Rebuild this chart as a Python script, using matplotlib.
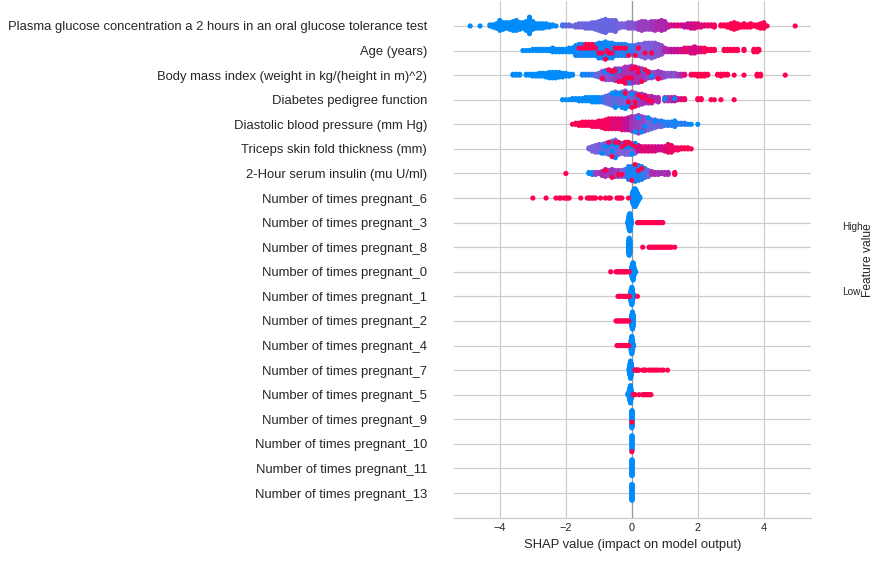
import matplotlib
matplotlib.use("Agg")
import matplotlib.pyplot as plt
from matplotlib.colors import LinearSegmentedColormap
import numpy as np

features = [
    "Plasma glucose concentration a 2 hours in an oral glucose tolerance test",
    "Age (years)",
    "Body mass index (weight in kg/(height in m)^2)",
    "Diabetes pedigree function",
    "Diastolic blood pressure (mm Hg)",
    "Triceps skin fold thickness (mm)",
    "2-Hour serum insulin (mu U/ml)",
    "Number of times pregnant_6",
    "Number of times pregnant_3",
    "Number of times pregnant_8",
    "Number of times pregnant_0",
    "Number of times pregnant_1",
    "Number of times pregnant_2",
    "Number of times pregnant_4",
    "Number of times pregnant_7",
    "Number of times pregnant_5",
    "Number of times pregnant_9",
    "Number of times pregnant_10",
    "Number of times pregnant_11",
    "Number of times pregnant_13",
]

# shap value, how many points sit there, colour (0 low feature value, 1 high)
glucose_shap = [-4.9, -4.6, -4.3, -4.2, -4.1, -4.0, -3.9, -3.8, -3.7, -3.6,
                -3.5, -3.4, -3.3, -3.2, -3.1, -3.0, -2.9, -2.8, -2.7, -2.6,
                -2.5, -2.4, -2.3, -2.1, -2.0, -1.9, -1.8, -1.7, -1.6, -1.5,
                -1.4, -1.3, -1.2, -1.1, -1.0, -0.9, -0.8, -0.7, -0.6, -0.5,
                -0.4, -0.3, -0.2, -0.1, 0.0, 0.1, 0.2, 0.3, 0.4, 0.5,
                0.6, 0.7, 0.8, 0.9, 1.0, 1.1, 1.2, 1.3, 1.4, 1.5,
                1.6, 1.7, 1.8, 1.9, 2.0, 2.1, 2.2, 2.3, 2.4, 2.5,
                2.7, 2.8, 2.9, 3.0, 3.1, 3.2, 3.3, 3.4, 3.5, 3.6,
                3.7, 3.8, 3.9, 4.0, 4.1, 4.95]
glucose_n = [1, 1, 2, 3, 5, 10, 7, 6, 7, 9,
             10, 7, 6, 9, 16, 8, 5, 5, 5, 4,
             3, 2, 1, 2, 2, 2, 1, 3, 4, 4,
             5, 5, 6, 7, 9, 11, 13, 10, 10, 11,
             5, 4, 4, 6, 6, 5, 7, 9, 8, 7,
             8, 9, 8, 10, 8, 3, 2, 2, 2, 2,
             3, 4, 5, 5, 4, 3, 2, 2, 2, 3,
             2, 2, 3, 5, 7, 5, 3, 4, 3, 4,
             2, 3, 5, 6, 1, 1]
glucose_hue = [0, 0, 0, 0, 0, 0, 0, 0, 0, 0,
               0, 0, 0, 0, 0, 0, 0, 0, 0, 0,
               0, 0, 0, .2, .25, .3, .3, .3, .3, .35,
               .3, .3, .3, .3, .3, .3, .3, .3, .3, .3,
               .35, .35, .35, .4, .4, .4, .5, .5, .5, .5,
               .55, .55, .6, .6, .6, .65, .8, .75, .9, .75,
               .7, .75, .75, .8, .8, .85, .85, .9, .9, .95,
               1, 1, 1, 1, 1, 1, 1, 1, 1, 1,
               1, 1, 1, 1, 1, 1]

age_shap = [-3.3, -3.2, -3.1, -3.0, -2.9, -2.8, -2.7, -2.6, -2.5, -2.4,
            -2.3, -2.2, -2.1, -2.0, -1.9, -1.8, -1.7, -1.6, -1.5, -1.4,
            -1.3, -1.2, -1.1, -1.0, -0.9, -0.8, -0.7, -0.6, -0.5, -0.4,
            -0.3, -0.2, -0.1, 0.0, 0.1, 0.2, 0.3, 0.4, 0.5, 0.6,
            0.7, 0.8, 0.9, 1.0, 1.1, 1.2, 1.3, 1.4, 1.5, 1.6,
            1.7, 1.8, 1.9, 2.0, 2.1, 2.2, 2.3, 2.4, 2.5, 2.8,
            2.9, 3.0, 3.1, 3.2, 3.4, 3.7, 3.8, 3.85]
age_n = [1, 1, 1, 2, 2, 2, 2, 2, 2, 4,
         3, 3, 3, 3, 4, 4, 9, 9, 9, 8,
         8, 8, 9, 12, 12, 14, 12, 12, 9, 9,
         9, 9, 8, 8, 8, 9, 11, 12, 12, 12,
         12, 10, 8, 4, 3, 3, 3, 3, 3, 4,
         4, 5, 6, 4, 4, 4, 2, 2, 2, 2,
         2, 2, 2, 2, 2, 3, 3, 2]
age_hue = [0, 0, 0, 0, 0, 0, 0, 0, 0, 0,
           0, 0, 0, 0, 0, 0, .05, .05, .05, .05,
           .05, .05, .05, .05, .05, .05, .05, .05, .05, .1,
           .1, .1, .1, .15, .2, .3, .35, .35, .35, .35,
           .4, .4, .45, .6, .6, .7, .7, .75, .8, .85,
           .85, .8, .8, .8, .85, .95, 1, 1, 1, 1,
           1, 1, 1, 1, 1, 1, 1, 1]
age_red = [-1.6, -1.5, -1.4, -1.3, -1.3, -1.2, -1.1, -1.0, -0.9, -0.8, -0.75, -0.6, -0.4, -0.3,
           -0.2, -0.1, 0.1, -1.4, -1.2, -0.7, -0.5, 0.2, 0.4, 0.6]

bmi_shap = [-3.6, -3.5, -3.4, -3.2, -3.1, -3.0, -2.9, -2.8, -2.7, -2.6,
            -2.5, -2.4, -2.3, -2.2, -2.1, -2.0, -1.9, -1.8, -1.5, -1.4,
            -1.3, -1.2, -1.1, -1.0, -0.9, -0.8, -0.7, -0.6, -0.5, -0.4,
            -0.3, -0.2, -0.1, 0.0, 0.1, 0.2, 0.3, 0.4, 0.5, 0.6,
            0.7, 0.8, 0.9, 1.0, 1.1, 1.2, 1.3, 1.4, 1.5, 1.6,
            1.8, 1.9, 2.0, 2.1, 2.2, 2.3, 2.6, 2.7, 2.8, 2.9,
            3.1, 3.4, 3.8, 3.9, 4.65]
bmi_n = [2, 2, 2, 2, 2, 3, 3, 4, 4, 5,
         7, 7, 7, 6, 5, 4, 3, 2, 2, 2,
         2, 2, 3, 5, 8, 10, 11, 9, 13, 13,
         14, 17, 17, 18, 17, 15, 13, 11, 7, 6,
         6, 8, 7, 5, 4, 4, 4, 3, 3, 2,
         2, 2, 3, 3, 3, 2, 2, 3, 2, 2,
         1, 1, 3, 3, 1]
bmi_hue = [0, 0, 0, 0, 0, 0, 0, 0, 0, 0,
           0, 0, 0, 0, 0, 0, 0, 0, .05, .05,
           .1, .1, .25, .3, .4, .45, .4, .45, .5, .5,
           .55, .55, .55, .55, .55, .55, .55, .5, .45, .45,
           .45, .5, .5, .45, .4, .45, .4, .5, .6, .85,
           .95, 1, 1, 1, 1, 1, 1, 1, 1, 1,
           1, 1, 1, 1, 1]
bmi_red = [-0.9, -0.7, -0.6, -0.4, -0.3, -0.2, -0.1, 0.1, 0.2, 0.3, 0.4, 0.8, -0.5, -0.2, 0.0, 0.0, 0.2, 0.5]
bmi_blue = [-0.8, -0.6, -0.4, -0.1, 0.3, 0.6]

pedigree_shap = [-2.1, -2.0, -1.9, -1.8, -1.7, -1.6, -1.5, -1.4, -1.3, -1.2,
                 -1.1, -1.0, -0.9, -0.8, -0.7, -0.6, -0.5, -0.4, -0.3, -0.2,
                 -0.1, 0.0, 0.1, 0.2, 0.3, 0.4, 0.5, 0.6, 0.7, 0.8,
                 1.0, 1.1, 1.2, 1.3, 1.4, 1.5, 1.6, 2.0, 2.1, 2.4,
                 2.5, 2.7, 3.1]
pedigree_n = [1, 1, 1, 2, 2, 3, 3, 4, 4, 5,
              5, 5, 5, 7, 9, 11, 13, 11, 13, 14,
              11, 13, 10, 9, 9, 7, 6, 6, 4, 5,
              3, 4, 4, 3, 2, 2, 2, 2, 2, 1,
              1, 1, 1]
pedigree_hue = [0, 0, 0, 0, 0, 0, 0, 0, 0, 0,
                0, 0, .1, .25, .3, .3, .25, .3, .3, .35,
                .4, .4, .45, .5, .55, .6, .55, .6, .6, .6,
                .5, .55, .6, .7, .8, .85, .9, 1, 1, 1,
                1, 1, 1]
pedigree_red = [-0.2, -0.1, 0.0, 0.1, 0.1, 0.2, 0.3, 0.4, 0.5, 0.6]
pedigree_blue = [-0.6, -0.5, -0.4, -0.3, -0.3, -0.2, -0.1, 0.0, 0.2, 1.0, 1.3, -0.5, -0.2, 0.1]

diastolic_shap = [-1.8, -1.7, -1.6, -1.5, -1.4, -1.3, -1.2, -1.1, -1.0, -0.9,
                  -0.8, -0.7, -0.6, -0.5, -0.4, -0.3, -0.2, -0.1, 0.0, 0.1,
                  0.2, 0.3, 0.4, 0.5, 0.6, 0.7, 0.8, 0.9, 1.0, 1.1,
                  1.2, 1.3, 1.4, 1.5, 1.6, 1.7, 1.8, 2.0]
diastolic_n = [1, 2, 3, 4, 4, 4, 5, 5, 6, 7,
               9, 10, 10, 10, 10, 11, 11, 12, 14, 14,
               16, 14, 12, 11, 9, 7, 6, 5, 4, 4,
               4, 5, 2, 2, 2, 1, 1, 1]
diastolic_hue = [1, 1, 1, 1, 1, .95, .95, .95, .95, .95,
                 .95, .95, .85, .85, .85, .85, .7, .7, .55, .5,
                 .5, .45, .45, .35, .3, .3, .3, .3, .15, .1,
                 .1, .1, .1, .1, .1, .1, 0, 0]
diastolic_blue = [0.2, 0.3, 0.5, 0.7, 1.3, 0.1, 0.4, 0.9]

triceps_shap = [-1.3, -1.2, -1.1, -1.0, -0.9, -0.8, -0.7, -0.6, -0.5, -0.4,
                -0.3, -0.2, -0.1, 0.0, 0.1, 0.2, 0.3, 0.4, 0.5, 0.6,
                0.7, 0.8, 0.9, 1.0, 1.1, 1.2, 1.3, 1.4, 1.5, 1.6,
                1.7, 1.8]
triceps_n = [2, 5, 7, 8, 8, 9, 10, 12, 14, 10,
             8, 9, 9, 8, 8, 6, 5, 5, 5, 5,
             5, 4, 4, 5, 8, 7, 3, 3, 2, 2,
             2, 1]
triceps_hue = [.35, .35, .35, .35, .3, .3, .3, .3, .3, .35,
               .35, .35, .35, .35, .4, .7, .85, .85, .8, .85,
               .8, .75, .75, .85, .9, .9, .9, .95, .95, 1,
               1, 1]
triceps_red = [-0.7, -0.6, -0.5, -0.4, -0.3, -0.2, -0.2, -0.1, 0.0, 0.1]
triceps_blue = [-0.9, -0.8, -0.7, -0.6, -0.6, -0.5, -0.5, -0.4, -0.3, -0.2, -0.1, -0.1, 0.0, 0.0, 0.1]

insulin_shap = [-2.0, -1.3, -1.2, -1.1, -1.0, -0.9, -0.8, -0.7, -0.6, -0.5,
                -0.4, -0.3, -0.2, -0.1, 0.0, 0.1, 0.2, 0.3, 0.4, 0.5,
                0.6, 0.7, 0.8, 0.9, 1.0, 1.1, 1.3]
insulin_n = [1, 2, 3, 3, 2, 5, 7, 6, 8, 7,
             6, 6, 8, 14, 14, 17, 15, 13, 10, 7,
             4, 3, 3, 2, 3, 3, 3]
insulin_hue = [1, 0, 0, .5, .5, .6, .55, .5, .55, .5,
               .5, .4, .25, .1, .05, .05, .05, .1, .15, .3,
               .55, .6, .55, .6, .55, .6, 1]
insulin_red = [-0.6, -0.4, 0.1, 0.2, -0.8, -0.3, 0.0, 0.3]

preg6_shap = [0.02, 0.04, 0.06, 0.08, 0.1, 0.12, 0.14, 0.16, 0.18, 0.2, 0.22, 0.24]
preg6_n = [14, 18, 22, 26, 26, 22, 18, 14, 10, 7, 4, 2]
preg6_red = [-3.0, -2.6, -2.3, -2.2, -2.15, -2.05, -2.0, -1.95, -1.9, -1.55, -1.35, -1.3, -1.25,
             -1.2, -1.15, -1.1, -0.95, -0.8, -0.7, -0.65, -0.45, -0.4, -0.35, -0.3, -0.1]

preg3_shap = [-0.12, -0.1, -0.08, -0.06, -0.04, -0.02]
preg3_n = [3, 10, 18, 22, 14, 6]
preg3_red = [0.17, 0.2, 0.25, 0.3, 0.35, 0.4, 0.45, 0.5, 0.55, 0.6, 0.65, 0.7, 0.75, 0.8, 0.85, 0.9, 0.94]

preg8_shap = [-0.1, -0.08, -0.06]
preg8_n = [14, 20, 14]
preg8_red = [0.33, 0.52, 0.56, 0.6, 0.65, 0.7, 0.75, 0.8, 0.85, 0.9, 0.95, 1.0, 1.05, 1.1, 1.15, 1.2, 1.3]

preg0_shap = [0.0, 0.02, 0.04, 0.06, 0.09, 0.12]
preg0_n = [12, 18, 22, 12, 4, 1]
preg0_red = [-0.64, -0.48, -0.45, -0.42, -0.38, -0.35, -0.32, -0.28, -0.25, -0.22, -0.18, -0.15, -0.12, -0.08]

preg1_shap = [-0.04, -0.02, 0.0, 0.02, 0.05, 0.08]
preg1_n = [8, 16, 22, 14, 4, 2]
preg1_red = [-0.42, -0.38, -0.34, -0.3, -0.26, -0.22, -0.18, -0.14, -0.1, -0.07, 0.17]

preg2_shap = [0.0, 0.02, 0.04]
preg2_n = [14, 20, 14]
preg2_red = [-0.48, -0.44, -0.4, -0.36, -0.32, -0.28, -0.24, -0.2, -0.16, -0.12, -0.09]

preg4_shap = [-0.02, 0.0, 0.02, 0.05]
preg4_n = [14, 22, 12, 3]
preg4_red = [-0.45, -0.41, -0.37, -0.33, -0.29, -0.25, -0.21, -0.17, -0.13, -0.09]

preg7_shap = [-0.08, -0.06, -0.04, -0.02, 0.0, 0.02]
preg7_n = [4, 14, 22, 16, 6, 2]
preg7_red = [0.09, 0.12, 0.15, 0.18, 0.21, 0.33, 0.38, 0.42, 0.52, 0.58, 0.64, 0.72, 0.78, 0.87, 0.95, 1.08]

preg5_shap = [-0.12, -0.08, -0.06, -0.04, -0.02, 0.0]
preg5_n = [2, 8, 16, 22, 12, 4]
preg5_red = [0.04, 0.07, 0.1, 0.22, 0.33, 0.38, 0.42, 0.46, 0.5, 0.54, 0.58]

preg9_shap = [0.0, 0.01]
preg9_n = [12, 12]
preg9_red = [0.0]

preg10_shap = [0.0, 0.01]
preg10_n = [8, 8]
preg10_red = [0.0]

preg11_shap = [0.0, 0.01]
preg11_n = [12, 12]

preg13_shap = [0.0, 0.01]
preg13_n = [12, 12]

# shap value, count, hue, extra red points, extra blue points
rows = [
    (glucose_shap, glucose_n, glucose_hue, [], []),
    (age_shap, age_n, age_hue, age_red, []),
    (bmi_shap, bmi_n, bmi_hue, bmi_red, bmi_blue),
    (pedigree_shap, pedigree_n, pedigree_hue, pedigree_red, pedigree_blue),
    (diastolic_shap, diastolic_n, diastolic_hue, [], diastolic_blue),
    (triceps_shap, triceps_n, triceps_hue, triceps_red, triceps_blue),
    (insulin_shap, insulin_n, insulin_hue, insulin_red, []),
    (preg6_shap, preg6_n, None, preg6_red, []),
    (preg3_shap, preg3_n, None, preg3_red, []),
    (preg8_shap, preg8_n, None, preg8_red, []),
    (preg0_shap, preg0_n, None, preg0_red, []),
    (preg1_shap, preg1_n, None, preg1_red, []),
    (preg2_shap, preg2_n, None, preg2_red, []),
    (preg4_shap, preg4_n, None, preg4_red, []),
    (preg7_shap, preg7_n, None, preg7_red, []),
    (preg5_shap, preg5_n, None, preg5_red, []),
    (preg9_shap, preg9_n, None, preg9_red, []),
    (preg10_shap, preg10_n, None, preg10_red, []),
    (preg11_shap, preg11_n, None, [], []),
    (preg13_shap, preg13_n, None, [], []),
]

plt.rcParams["font.family"] = ["Liberation Sans", "DejaVu Sans"]
plt.rcParams["text.color"] = "#262626"
plt.rcParams["axes.labelcolor"] = "#262626"

cmap = LinearSegmentedColormap.from_list(
    "red_blue", [(0, "#008bfb"), (0.35, "#7a60da"), (0.7, "#c0109a"), (1, "#ff0051")]
)


def swarm_offsets(xs):
    # same layering as the shap summary plot, points with equal value get stacked
    ys = np.zeros(len(xs))
    for value in np.unique(xs):
        idx = np.where(xs == value)[0]
        order = list(idx[::3]) + list(idx[1::3]) + list(idx[2::3])
        for layer, i in enumerate(order):
            ys[i] = np.ceil(layer / 2) * ((layer % 2) * 2 - 1)
    return ys * 0.4 / (ys.max() + 1)


fig = plt.figure(figsize=(889 / 72, 562 / 72), dpi=72)
ax = fig.add_axes([454 / 889, 1 - 517.6 / 562, 357 / 889, 516.2 / 562])

for i, (shap, counts, hue, red, blue) in enumerate(rows):
    if hue is None:
        hue = [0] * len(shap)
    xs = np.concatenate([np.repeat(shap, counts), blue, red])
    cs = np.concatenate([np.repeat(hue, counts), np.zeros(len(blue)), np.ones(len(red))])
    y = len(rows) - 1 - i
    ax.scatter(xs, y + swarm_offsets(xs), c=cs, cmap=cmap, vmin=0, vmax=1,
               s=27, linewidths=0, zorder=3)

ax.axvline(0, color="#999999", lw=1.2, zorder=1)
ax.grid(True, color="#cccccc", lw=1.2, zorder=0)
ax.set_axisbelow(True)

ax.set_yticks(range(len(features)))
ax.set_yticklabels(features[::-1], fontsize=13)
ax.set_xticks([-4, -2, 0, 2, 4])
ax.tick_params(axis="x", labelsize=11, length=0, pad=5, labelcolor="#262626")
ax.tick_params(axis="y", length=0, pad=27, labelcolor="#262626")
ax.set_xlim(-5.39, 5.43)
ax.set_ylim(-1, 20)
ax.set_xlabel("SHAP value (impact on model output)", fontsize=13, labelpad=6)

for side in ["top", "left", "right"]:
    ax.spines[side].set_visible(False)
ax.spines["bottom"].set_color("#cccccc")
ax.spines["bottom"].set_linewidth(1.2)

# the colour bar itself did not render in the original, only its labels
fig.text(842 / 889, 1 - 227 / 562, "High", fontsize=10, va="center", ha="left")
fig.text(842 / 889, 1 - 292 / 562, "Low", fontsize=10, va="center", ha="left")
fig.text(868 / 889, 1 - 260 / 562, "Feature value", fontsize=12, rotation=90, va="center", ha="center")

fig.savefig("out.png", dpi=72)
